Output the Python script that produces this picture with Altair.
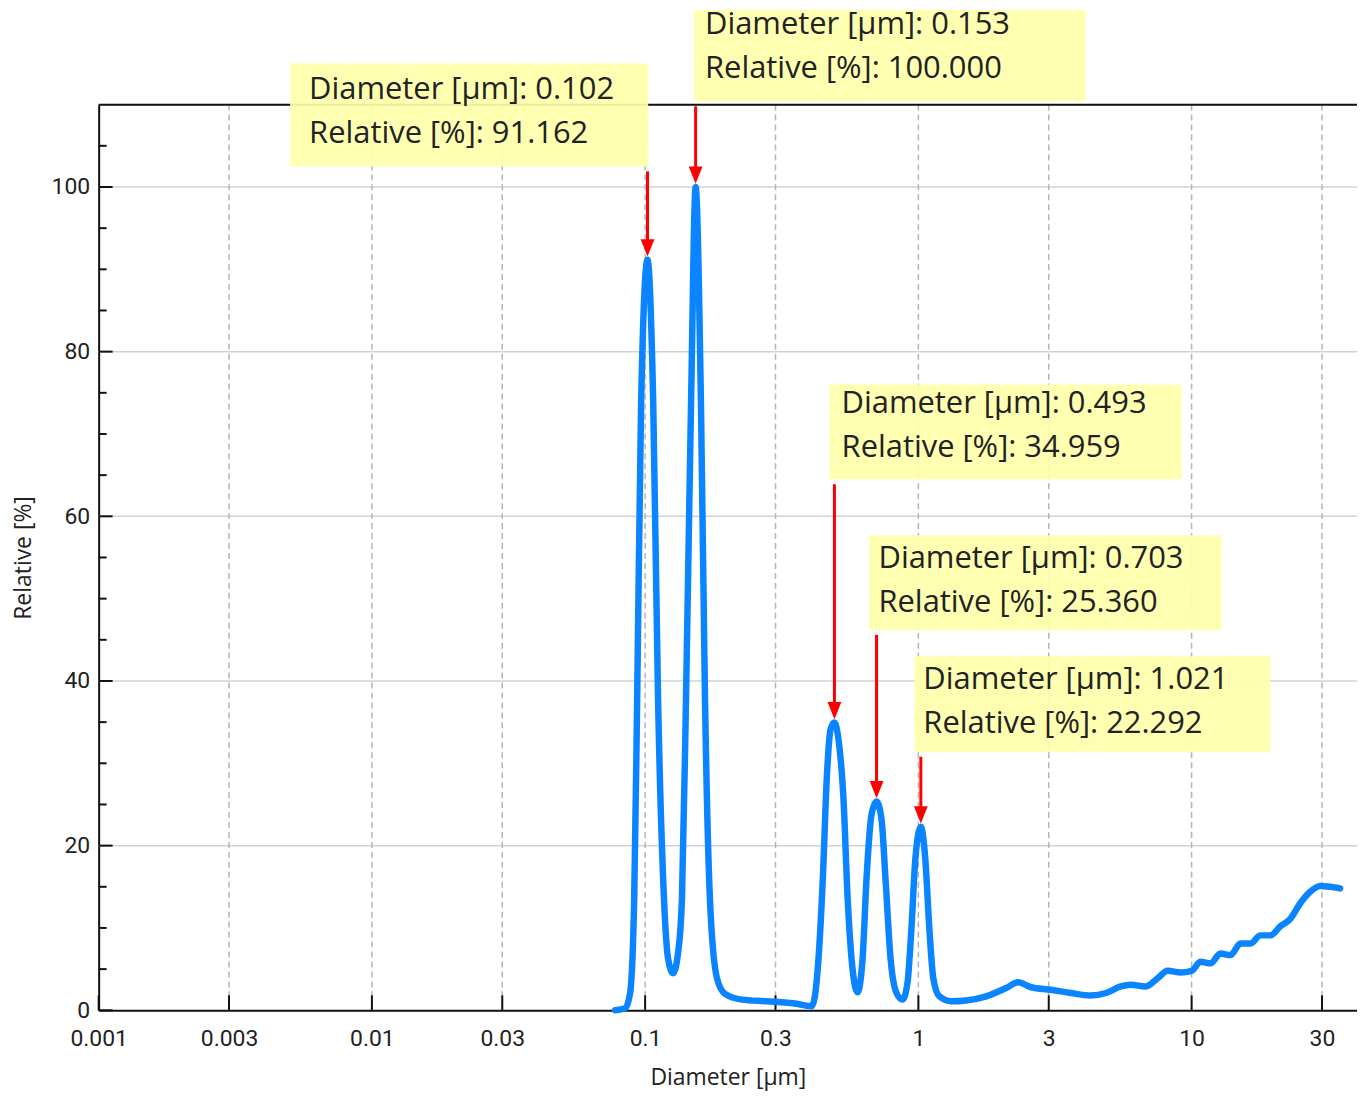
import altair as alt
import pandas as pd

# ---- data -------------------------------------------------------------
diameter = [0.0777, 0.0845, 0.0881, 0.0912, 0.0935, 0.0967, 0.102, 0.107, 0.1115, 0.1172,
            0.1213, 0.1265, 0.1319, 0.1364, 0.1411, 0.1473, 0.153, 0.160, 0.1656, 0.1726,
            0.1832, 0.196, 0.226, 0.279, 0.359, 0.407,
            0.417, 0.431, 0.447, 0.462, 0.477, 0.493, 0.510, 0.532, 0.551, 0.574,
            0.599, 0.625, 0.646, 0.674, 0.703, 0.733, 0.758, 0.791, 0.832, 0.875,
            0.912, 0.943, 0.975, 1.021, 1.060, 1.097, 1.134, 1.193, 1.319, 1.497,
            1.771, 2.095, 2.316, 2.585, 3.057, 3.616, 4.277, 4.855, 5.507, 5.989,
            6.797, 7.515, 8.171, 9.12, 10.0, 10.79, 11.73, 12.76, 13.87, 15.10,
            16.42, 17.85, 19.42, 21.12, 22.97, 24.98, 27.16, 29.54, 32.12, 34.96]
relative = [0.0, 0.24, 2.1, 13.6, 37.8, 74.1, 91.162, 74.1, 37.8, 13.6,
            6.3, 4.5, 6.9, 13.6, 37.8, 74.1, 100.0, 74.1, 37.8, 13.6,
            3.9, 2.0, 1.3, 1.1, 0.8, 0.5,
            1.5, 6.3, 16.0, 28.1, 34.1, 34.959, 32.9, 25.7, 13.6, 5.1,
            2.2, 6.3, 16.0, 23.8, 25.36, 23.2, 16.0, 6.3, 2.1, 1.3,
            3.3, 9.9, 18.4, 22.292, 18.4, 9.9, 3.9, 1.7, 1.1, 1.2,
            1.7, 2.7, 3.4, 2.8, 2.5, 2.1, 1.8, 2.1, 2.9, 3.1,
            2.9, 3.9, 4.8, 4.6, 4.8, 5.9, 5.7, 6.9, 6.7, 8.1,
            8.1, 9.1, 9.1, 10.2, 11.1, 13.0, 14.4, 15.1, 15.0, 14.8]

x_ticks = [0.001, 0.003, 0.01, 0.03, 0.1, 0.3, 1, 3, 10, 30]
y_major = [0, 20, 40, 60, 80, 100]
y_minor = [5, 10, 15, 25, 30, 35, 45, 50, 55, 65, 70, 75, 85, 90, 95, 105]

peak_d = [0.102, 0.153, 0.493, 0.703, 1.021]
peak_r = [91.162, 100.000, 34.959, 25.360, 22.292]
labels = [f"Diameter [µm]: {d:.3f}\nRelative [%]: {r:.3f}" for d, r in zip(peak_d, peak_r)]

# annotation box layout (data coordinates)
box_x1 = [0.00502, 0.151, 0.473, 0.662, 0.967]
box_x2 = [0.1026, 4.10, 9.20, 12.86, 19.42]
box_y1 = [102.5, 110.4, 64.5, 46.2, 31.4]
box_y2 = [115.0, 121.5, 76.0, 57.7, 43.0]
text_x = [0.00589, 0.1656, 0.5236, 0.7145, 1.043]
text_y = [113.6, 121.5, 75.4, 56.6, 41.9]

# ---- frames -----------------------------------------------------------
curve = pd.DataFrame({"d": diameter, "r": relative})
ann = pd.DataFrame({"pd": peak_d, "pr": peak_r, "label": labels,
                    "x1": box_x1, "x2": box_x2, "y1": box_y1, "y2": box_y2,
                    "tx": text_x, "ty": text_y})
xt = pd.DataFrame({"v": x_ticks})
ymaj = pd.DataFrame({"v": y_major})
ymin = pd.DataFrame({"v": y_minor})

W, H = 1263, 909
FONT = "Open Sans"
TICKFONT = "Roboto"

xscale = alt.Scale(type="log", domain=[0.001, 40.3], nice=False)
yscale = alt.Scale(domain=[0, 110], nice=False)

x_enc = alt.X("d:Q", scale=xscale,
              axis=alt.Axis(values=x_ticks, format="~g", title="Diameter [µm]",
                            grid=False, ticks=False, domainColor="#111", domainWidth=2,
                            labelFont=TICKFONT, labelFontSize=23, labelColor="#222",
                            labelPadding=17, labelFlush=False,
                            titleFont=FONT, titleFontSize=23, titleFontWeight="normal",
                            titleColor="#222", titlePadding=16))
y_enc = alt.Y("r:Q", scale=yscale,
              axis=alt.Axis(values=y_major, title="Relative [%]", grid=False, ticks=False,
                            domainColor="#111", domainWidth=2,
                            labelFont=TICKFONT, labelFontSize=23, labelColor="#222",
                            labelPadding=9,
                            titleFont=FONT, titleFontSize=23, titleFontWeight="normal",
                            titleColor="#222", titleX=-63, titleY=H / 2))

# grid lines
vgrid = alt.Chart(xt[xt.v > 0.001]).mark_rule(color="#b5b5b5", strokeWidth=1.5,
                                              strokeDash=[6, 4]).encode(
    x=alt.X("v:Q", scale=xscale))
hgrid = alt.Chart(ymaj[ymaj.v > 0]).mark_rule(color="#d2d2d2", strokeWidth=1.5).encode(
    y=alt.Y("v:Q", scale=yscale))

# inward tick marks
xtick = alt.Chart(xt).mark_rule(color="#111", strokeWidth=2).encode(
    x=alt.X("v:Q", scale=xscale), y=alt.value(H), y2=alt.value(H - 15))
ytick_maj = alt.Chart(ymaj).mark_rule(color="#111", strokeWidth=2).encode(
    y=alt.Y("v:Q", scale=yscale), x=alt.value(0), x2=alt.value(14))
ytick_min = alt.Chart(ymin).mark_rule(color="#111", strokeWidth=2).encode(
    y=alt.Y("v:Q", scale=yscale), x=alt.value(0), x2=alt.value(8))
top_line = alt.Chart(ymaj.head(1)).mark_rule(color="#111", strokeWidth=2).encode(
    x=alt.value(0), x2=alt.value(W), y=alt.value(0))

line = alt.Chart(curve).mark_line(color="#0a84ff", strokeWidth=6.5, interpolate="monotone",
                                  strokeCap="round", strokeJoin="round").encode(
    x=x_enc, y=y_enc)

boxes = alt.Chart(ann).mark_rect(fill="#ffffaa", opacity=0.92).encode(
    x=alt.X("x1:Q", scale=xscale), x2="x2:Q",
    y=alt.Y("y1:Q", scale=yscale), y2="y2:Q")
texts = alt.Chart(ann).mark_text(align="left", baseline="top", font=FONT, fontSize=31,
                                 color="#222", lineBreak="\n", lineHeight=44).encode(
    x=alt.X("tx:Q", scale=xscale), y=alt.Y("ty:Q", scale=yscale), text="label:N")

arrow_shaft = alt.Chart(ann).mark_rule(color="#ff0000", strokeWidth=3,
                                       yOffset=5, y2Offset=-14).encode(
    x=alt.X("pd:Q", scale=xscale), y=alt.Y("y1:Q", scale=yscale), y2="pr:Q")
arrow_head = alt.Chart(ann).mark_point(shape="M-0.8,-1L0.8,-1L0,1Z", size=300,
                                       filled=True, color="#ff0000", opacity=1,
                                       yOffset=-12).encode(
    x=alt.X("pd:Q", scale=xscale), y=alt.Y("pr:Q", scale=yscale))

chart = alt.layer(hgrid, vgrid, xtick, ytick_maj, ytick_min, top_line, line,
                  boxes, texts, arrow_shaft, arrow_head).properties(
    width=W, height=H,
    padding={"left": 91, "top": 95, "right": 0, "bottom": 80},
    autosize=alt.AutoSizeParams(type="none"),
).configure_view(stroke=None).configure(background="white")

chart.save("out.html", embed_options={"renderer": "svg", "actions": False})
